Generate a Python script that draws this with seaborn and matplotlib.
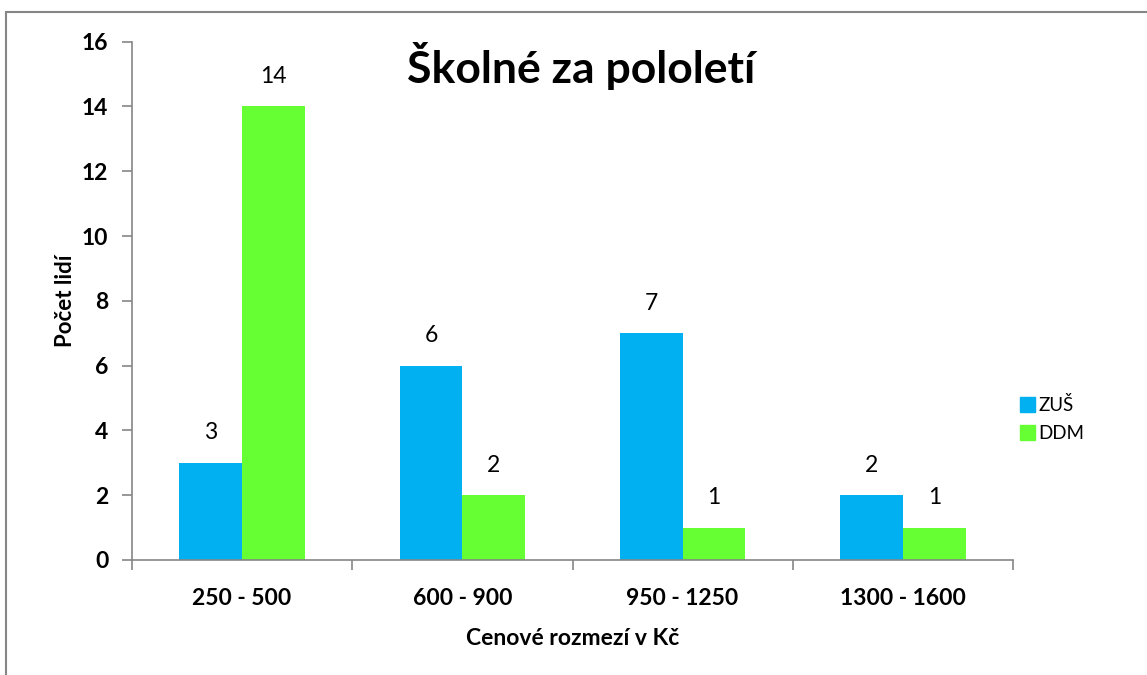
import matplotlib
matplotlib.use("Agg")
import matplotlib.pyplot as plt
import seaborn as sns
import pandas as pd
from matplotlib.patches import Rectangle

categories = ["250 - 500", "600 - 900", "950 - 1250", "1300 - 1600"]
zus = [3, 6, 7, 2]
ddm = [14, 2, 1, 1]
series = ["ZUŠ", "DDM"]
colors = ["#00B0F0", "#66FF33"]

df = pd.DataFrame({
    "cat": categories * 2,
    "val": zus + ddm,
    "ser": [series[0]] * 4 + [series[1]] * 4,
})

sns.set_theme(style="white")
plt.rcParams["font.family"] = ["Lato", "DejaVu Sans"]
plt.rcParams["text.color"] = "black"
plt.rcParams["axes.labelcolor"] = "black"

fig = plt.figure(figsize=(11.47, 6.75), dpi=100)
ax = fig.add_axes([132/1147, 1-560/675, (1013-132)/1147, (560-41.7)/675])

sns.barplot(data=df, x="cat", y="val", hue="ser", palette=colors, ax=ax,
            width=0.57, saturation=1, order=categories, hue_order=series,
            legend=False, linewidth=0, edgecolor="none")

for c in ax.containers:
    ax.bar_label(c, labels=[f"{int(v)}" for v in c.datavalues], padding=14,
                 fontsize=16.5, color="black")

ax.set_ylim(0, 16)
ax.set_yticks(range(0, 17, 2))
ax.set_xlim(-0.5, 3.5)
ax.set_xticks([-0.5, 0.5, 1.5, 2.5, 3.5], minor=False)
ax.set_xticklabels([])
ax.set_xticks(range(4), minor=True)
ax.set_xticklabels(categories, minor=True, fontsize=16.5, fontweight="bold")
ax.tick_params(axis="x", which="minor", length=0, pad=20, labelcolor="black", bottom=True)
ax.tick_params(axis="x", which="major", length=7, color="#868686", width=1.2,
               direction="out", bottom=True)
ax.tick_params(axis="y", length=7, color="#868686", width=1.2, direction="out",
               pad=10, left=True, labelcolor="black")
for t in ax.get_yticklabels():
    t.set_fontsize(16.5)
    t.set_fontweight("bold")

for s in ["top", "right"]:
    ax.spines[s].set_visible(False)
for s in ["left", "bottom"]:
    ax.spines[s].set_color("#868686")
    ax.spines[s].set_linewidth(1.2)

ax.set_xlabel("Cenové rozmezí v Kč", fontsize=16.5, fontweight="bold", labelpad=14)
ax.set_ylabel("Počet lidí", fontsize=16, fontweight="bold", labelpad=4)

ax.text(0.51, 1.0, "Školné za pololetí", transform=ax.transAxes, ha="center", va="top",
        fontsize=32, fontweight="bold", color="black")

handles = [Rectangle((0, 0), 1, 1, color=c) for c in colors]
fig.legend(handles, series, loc="center left", bbox_to_anchor=(1003/1147, 1-419/675),
           frameon=False, fontsize=13.5, handlelength=0.8, handleheight=0.8,
           handletextpad=0.2, labelspacing=0.6)

fig.patches.append(Rectangle((6/1147, -0.05), 1.1, 1-12/675+0.05, transform=fig.transFigure,
                             fill=False, edgecolor="#868686", linewidth=1.5))

fig.savefig("out.png", dpi=100)
